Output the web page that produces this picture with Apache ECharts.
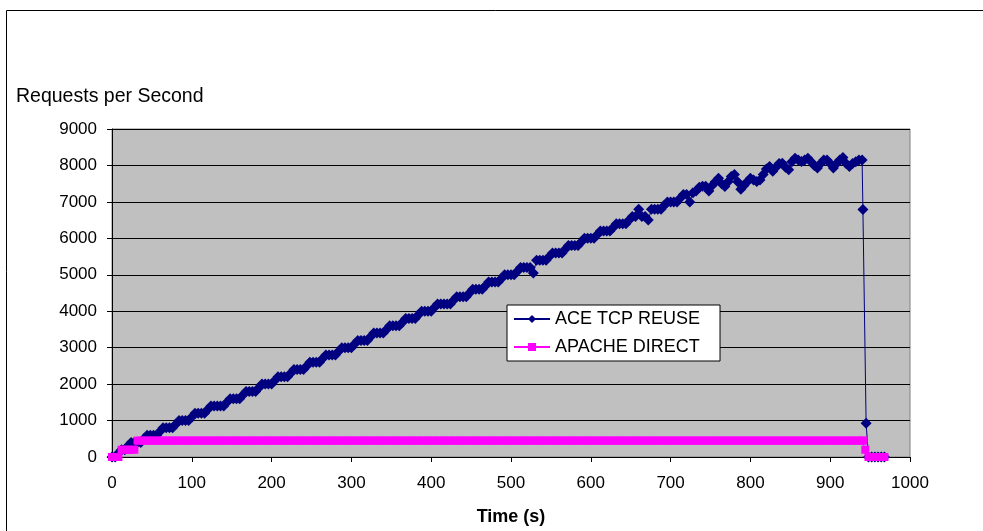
<!DOCTYPE html>
<html>
<head>
<meta charset="utf-8">
<script src="https://cdn.jsdelivr.net/npm/echarts@6/dist/echarts.min.js"></script>
<style>
html,body{margin:0;padding:0;background:#fff;}
#chart{width:983px;height:531px;}
</style>
</head>
<body>
<div id="chart"></div>
<script>
// Sample times (s), shared by both series up to 936 s
const baseTime = [
  0,4,8,12,16,20,24,28,32,36,
  40,44,48,52,56,60,64,68,72,76,
  80,84,88,92,96,100,104,108,112,116,
  120,124,128,132,136,140,144,148,152,156,
  160,164,168,172,176,180,184,188,192,196,
  200,204,208,212,216,220,224,228,232,236,
  240,244,248,252,256,260,264,268,272,276,
  280,284,288,292,296,300,304,308,312,316,
  320,324,328,332,336,340,344,348,352,356,
  360,364,368,372,376,380,384,388,392,396,
  400,404,408,412,416,420,424,428,432,436,
  440,444,448,452,456,460,464,468,472,476,
  480,484,488,492,496,500,504,508,512,516,
  520,524,528,532,536,540,544,548,552,556,
  560,564,568,572,576,580,584,588,592,596,
  600,604,608,612,616,620,624,628,632,636,
  640,644,648,652,656,660,664,668,672,676,
  680,684,688,692,696,700,704,708,712,716,
  720,724,728,732,736,740,744,748,752,756,
  760,764,768,772,776,780,784,788,792,796,
  800,804,808,812,816,820,824,828,832,836,
  840,844,848,852,856,860,864,868,872,876,
  880,884,888,892,896,900,904,908,912,916,
  920,924,928,932,936
];
const aceTailTime = [940,941,945,948,952,956,960,964,968];
const apacheTailTime = [940,942,944,948,952,956,960,964,968];

// ACE TCP REUSE (requests per second)
const aceBase = [
  0,0,100,200,200,300,400,400,400,400,
  500,600,600,600,600,700,800,800,800,800,
  900,1000,1000,1000,1000,1100,1200,1200,1200,1200,
  1300,1400,1400,1400,1400,1400,1500,1600,1600,1600,
  1600,1700,1800,1800,1800,1800,1900,2000,2000,2000,
  2000,2100,2200,2200,2200,2200,2300,2400,2400,2400,
  2400,2500,2600,2600,2600,2600,2700,2800,2800,2800,
  2800,2900,3000,3000,3000,3000,3100,3200,3200,3200,
  3200,3300,3400,3400,3400,3400,3500,3600,3600,3600,
  3600,3700,3800,3800,3800,3800,3900,4000,4000,4000,
  4000,4100,4200,4200,4200,4200,4200,4300,4400,4400,
  4400,4400,4500,4600,4600,4600,4600,4700,4800,4800,
  4800,4800,4900,5000,5000,5000,5000,5100,5200,5200,
  5200,5200,5050,5400,5400,5400,5400,5500,5600,5600,
  5600,5600,5700,5800,5800,5800,5800,5900,6000,6000,
  6000,6000,6100,6200,6200,6200,6200,6300,6400,6400,
  6400,6400,6500,6600,6600,6800,6600,6600,6500,6800,
  6800,6800,6800,6900,7000,7000,7000,7000,7100,7200,
  7200,7000,7250,7300,7400,7430,7430,7300,7450,7550,
  7650,7500,7420,7550,7700,7750,7550,7350,7450,7550,
  7650,7600,7560,7600,7750,7900,7970,7840,7950,8050,
  8060,7950,7880,8100,8200,8150,8110,8150,8200,8100,
  8000,7930,8050,8150,8150,8050,7930,8050,8150,8220,
  8050,7970,8050,8100,8150
];
const aceTail = [8150,6790,925,0,0,0,0,0,0];

// APACHE DIRECT (requests per second)
const apacheBase = [
  0,0,0,200,200,200,200,200,450,450,
  450,450,450,450,450,450,450,450,450,450,
  450,450,450,450,450,450,450,450,450,450,
  450,450,450,450,450,450,450,450,450,450,
  450,450,450,450,450,450,450,450,450,450,
  450,450,450,450,450,450,450,450,450,450,
  450,450,450,450,450,450,450,450,450,450,
  450,450,450,450,450,450,450,450,450,450,
  450,450,450,450,450,450,450,450,450,450,
  450,450,450,450,450,450,450,450,450,450,
  450,450,450,450,450,450,450,450,450,450,
  450,450,450,450,450,450,450,450,450,450,
  450,450,450,450,450,450,450,450,450,450,
  450,450,450,450,450,450,450,450,450,450,
  450,450,450,450,450,450,450,450,450,450,
  450,450,450,450,450,450,450,450,450,450,
  450,450,450,450,450,450,450,450,450,450,
  450,450,450,450,450,450,450,450,450,450,
  450,450,450,450,450,450,450,450,450,450,
  450,450,450,450,450,450,450,450,450,450,
  450,450,450,450,450,450,450,450,450,450,
  450,450,450,450,450,450,450,450,450,450,
  450,450,450,450,450,450,450,450,450,450,
  450,450,450,450,450
];
const apacheTail = [450,450,200,0,0,0,0,0,0];

const seriesNames = ['ACE TCP REUSE', 'APACHE DIRECT'];
const yTitle = 'Requests per Second';
const xTitle = 'Time (s)';

function pairs(times, values) {
  return times.map((t, i) => [t, values[i]]);
}
const aceData = pairs(baseTime.concat(aceTailTime), aceBase.concat(aceTail));
const apacheData = pairs(baseTime.concat(apacheTailTime), apacheBase.concat(apacheTail));

const FONT = '"Liberation Sans", Arial, sans-serif';
const plain = v => String(v);
const chart = echarts.init(document.getElementById('chart'), null, {renderer: 'canvas'});
chart.setOption({
  animation: false,
  backgroundColor: '#ffffff',
  textStyle: {fontFamily: FONT, color: '#000'},
  graphic: [{
    type: 'rect',
    silent: true,
    z: -10,
    shape: {x: 6.5, y: 10.5, width: 1200, height: 800},
    style: {fill: 'none', stroke: '#000', lineWidth: 1}
  }],
  title: {
    text: yTitle,
    left: 16,
    top: 87,
    padding: 0,
    textStyle: {fontFamily: FONT, fontSize: 19.5, fontWeight: 'normal', color: '#000'}
  },
  grid: {
    left: 112, right: 73, top: 129, bottom: 74,
    containLabel: false,
    outerBoundsMode: 'none',
    show: true,
    backgroundColor: '#C0C0C0',
    borderColor: '#808080',
    borderWidth: 1
  },
  legend: {
    orient: 'vertical',
    left: 507,
    top: 305,
    data: seriesNames,
    backgroundColor: '#ffffff',
    borderColor: '#000',
    borderWidth: 1,
    padding: [5, 20, 5, 6],
    itemWidth: 36,
    itemHeight: 10,
    itemGap: 10,
    itemStyle: {borderWidth: 0},
    textStyle: {fontFamily: FONT, fontSize: 18, color: '#000', lineHeight: 18}
  },
  xAxis: {
    type: 'value',
    min: 0, max: 1000, interval: 100,
    name: xTitle,
    nameLocation: 'middle',
    nameGap: 51,
    nameTextStyle: {fontFamily: FONT, fontSize: 18, fontWeight: 'bold', color: '#000'},
    axisLine: {show: true, lineStyle: {color: '#000', width: 1}},
    axisTick: {show: true, inside: false, length: 5, lineStyle: {color: '#000'}},
    axisLabel: {fontFamily: FONT, fontSize: 17, color: '#000', margin: 18, formatter: plain},
    splitLine: {show: false}
  },
  yAxis: {
    type: 'value',
    min: 0, max: 9000, interval: 1000,
    axisLine: {show: true, lineStyle: {color: '#000', width: 1}},
    axisTick: {show: true, inside: false, length: 5, lineStyle: {color: '#000'}},
    axisLabel: {fontFamily: FONT, fontSize: 17, color: '#000', margin: 15, formatter: plain},
    splitLine: {show: true, lineStyle: {color: '#000', width: 1}}
  },
  series: [
    {
      name: seriesNames[0],
      type: 'line',
      data: aceData,
      symbol: 'diamond',
      symbolSize: 11,
      showSymbol: true,
      showAllSymbol: true,
      color: '#000080',
      itemStyle: {color: '#000080', borderWidth: 0},
      lineStyle: {color: '#000080', width: 1},
      z: 2
    },
    {
      name: seriesNames[1],
      type: 'line',
      data: apacheData,
      symbol: 'rect',
      symbolSize: 8,
      showSymbol: true,
      showAllSymbol: true,
      color: '#FF00FF',
      itemStyle: {color: '#FF00FF', borderWidth: 0},
      lineStyle: {color: '#FF00FF', width: 1},
      z: 3
    }
  ]
});
</script>
</body>
</html>
